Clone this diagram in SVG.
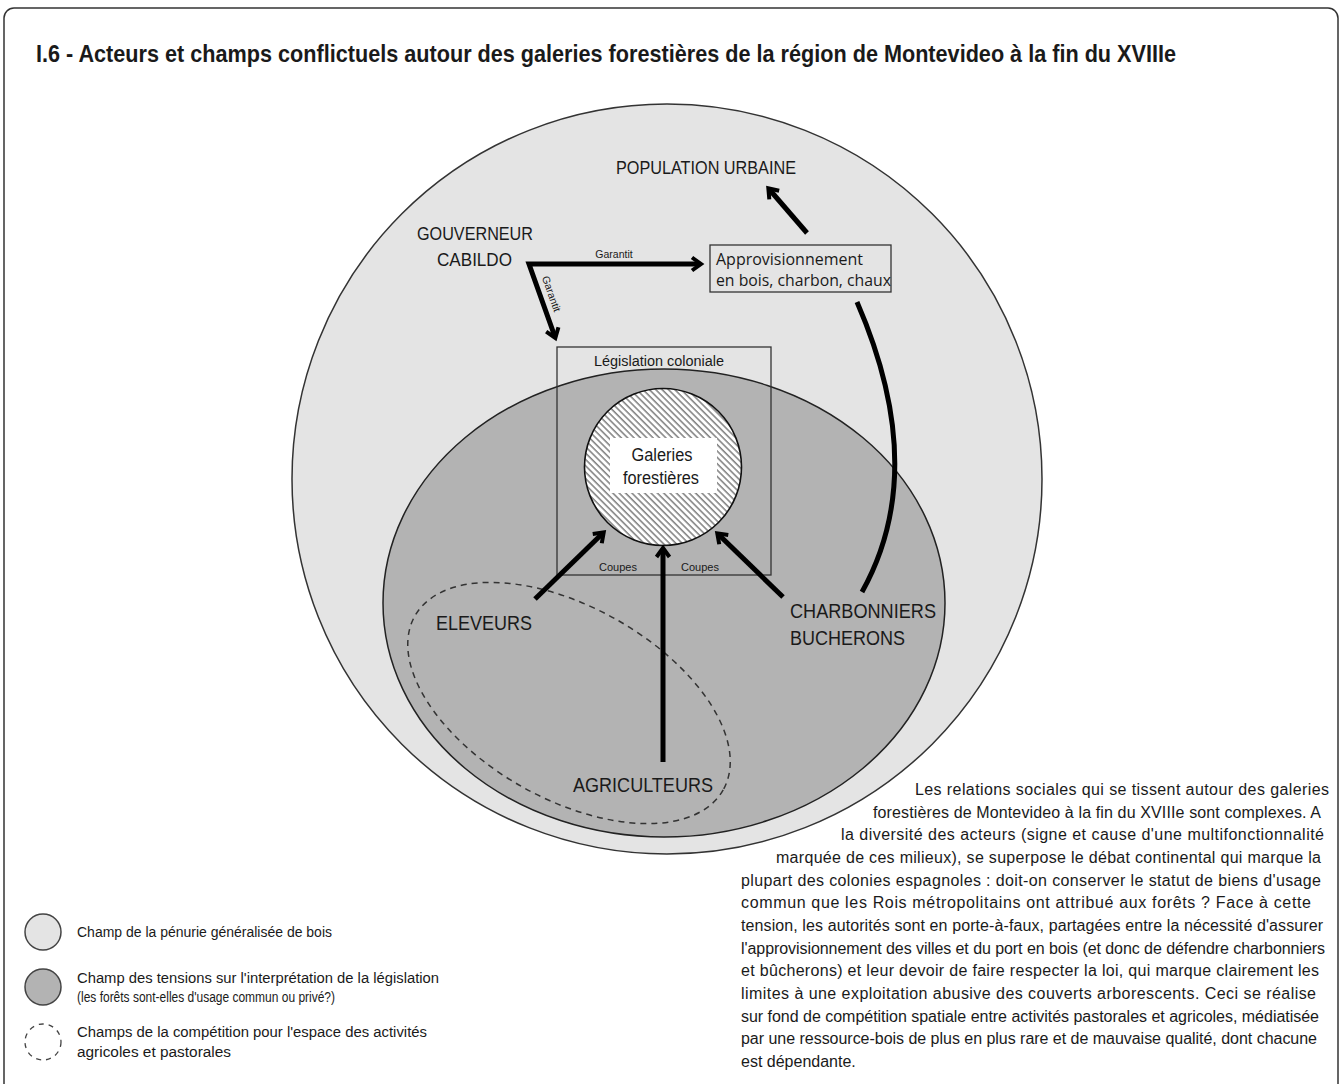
<svg xmlns="http://www.w3.org/2000/svg" width="1342" height="1084" viewBox="0 0 1342 1084">
<style>
.t{font-family:"Liberation Sans",Arial,sans-serif;fill:#1a1a1a}
.os{font-family:"Open Sans","Noto Sans",sans-serif;fill:#1a1a1a}
.lbl{font-size:20.5px}
.sm{font-size:10.5px}
.para{font-size:16px}
.leg{font-size:15.5px}
.arrow{fill:none;stroke:#000;stroke-width:5;marker-end:url(#chev)}
</style>
<defs>
<marker id="chev" markerUnits="userSpaceOnUse" viewBox="0 0 16 16" markerWidth="16" markerHeight="16" refX="11" refY="8" orient="auto-start-reverse" overflow="visible">
<path d="M3,1.5 L12,8 L3,14.5" fill="none" stroke="#000" stroke-width="4"/>
</marker>
<pattern id="hatch" patternUnits="userSpaceOnUse" width="4.5" height="4.5" patternTransform="rotate(45)">
<rect width="4.5" height="4.5" fill="#fff"/>
<line x1="0" y1="0.8" x2="4.5" y2="0.8" stroke="#6a6a6a" stroke-width="1.3"/>
</pattern>
</defs>
<rect x="4" y="8" width="1334" height="1100" rx="10" fill="#fff" stroke="#333" stroke-width="1.5"/>
<text id="title" class="t" x="36" y="62" font-size="24" font-weight="bold" textLength="1140" lengthAdjust="spacingAndGlyphs">I.6 - Acteurs et champs conflictuels autour des galeries forestières de la région de Montevideo à la fin du XVIIIe</text>

<g id="champ-penurie"><circle cx="667" cy="479" r="375" fill="#e4e4e4" stroke="#333" stroke-width="1.5"/></g>
<g id="champ-tensions"><ellipse cx="664" cy="603" rx="281" ry="234" fill="#b3b3b3" stroke="#222" stroke-width="1.5"/></g>
<g id="champ-competition"><ellipse cx="569" cy="703" rx="177" ry="96" transform="rotate(29.4 569 703)" fill="none" stroke="#333" stroke-width="1.5" stroke-dasharray="6 5"/></g>

<g id="legislation">
<rect x="557" y="347" width="214" height="228" fill="none" stroke="#333" stroke-width="1.3"/>
<text class="t" x="659" y="366" font-size="15.5" text-anchor="middle" textLength="130" lengthAdjust="spacingAndGlyphs">Législation coloniale</text>
</g>
<g id="galeries">
<circle cx="663" cy="467" r="78.5" fill="url(#hatch)" stroke="#111" stroke-width="1.6"/>
<rect x="610" y="438" width="107" height="55" fill="#fff"/>
<text class="t" x="662" y="461" font-size="17.5" text-anchor="middle" textLength="61" lengthAdjust="spacingAndGlyphs">Galeries</text>
<text class="t" x="661" y="484" font-size="17.5" text-anchor="middle" textLength="76" lengthAdjust="spacingAndGlyphs">forestières</text>
</g>
<g id="approvisionnement">
<rect x="710" y="245" width="181" height="47" fill="none" stroke="#333" stroke-width="1.3"/>
<text class="os" x="716" y="265" font-size="16" textLength="147" lengthAdjust="spacingAndGlyphs">Approvisionnement</text>
<text class="os" x="716" y="286" font-size="16" textLength="175" lengthAdjust="spacingAndGlyphs">en bois, charbon, chaux</text>
</g>
<g id="population"><text class="t" x="616" y="174" font-size="18.5" textLength="180" lengthAdjust="spacingAndGlyphs">POPULATION URBAINE</text></g>
<g id="gouverneur">
<text class="t" x="417" y="240" font-size="17.5" textLength="116" lengthAdjust="spacingAndGlyphs">GOUVERNEUR</text>
<text class="t" x="437" y="266" font-size="17.5" textLength="75" lengthAdjust="spacingAndGlyphs">CABILDO</text>
</g>
<g id="eleveurs"><text class="t lbl" x="436" y="630" textLength="96" lengthAdjust="spacingAndGlyphs">ELEVEURS</text></g>
<g id="agriculteurs"><text class="t lbl" x="573" y="792" textLength="140" lengthAdjust="spacingAndGlyphs">AGRICULTEURS</text></g>
<g id="charbonniers">
<text class="t lbl" x="790" y="618" textLength="146" lengthAdjust="spacingAndGlyphs">CHARBONNIERS</text>
<text class="t lbl" x="790" y="645" textLength="115" lengthAdjust="spacingAndGlyphs">BUCHERONS</text>
</g>

<g id="connectors">
<path class="arrow" d="M700,264 L529,264 L555,337" marker-start="url(#chev)" stroke-linejoin="miter"/>
<text class="t sm" x="614" y="258" text-anchor="middle">Garantit</text>
<text class="t sm" x="548" y="295" text-anchor="middle" transform="rotate(70.4 548 295)">Garantit</text>
<path class="arrow" d="M807,233 L769,189"/>
<path d="M857,302 Q930,470 862,592" fill="none" stroke="#000" stroke-width="5"/>
<path class="arrow" d="M535,599 L603,533"/>
<path class="arrow" d="M663,762 L663,549"/>
<path class="arrow" d="M783,597 L718,534"/>
<text class="t sm" x="618" y="571" font-size="11.5" text-anchor="middle" textLength="38" lengthAdjust="spacingAndGlyphs">Coupes</text>
<text class="t sm" x="700" y="571" font-size="11.5" text-anchor="middle" textLength="38" lengthAdjust="spacingAndGlyphs">Coupes</text>
</g>

<g id="legend">
<circle cx="43" cy="932" r="18" fill="#e4e4e4" stroke="#444" stroke-width="1.5"/>
<text class="t leg" x="77" y="937" textLength="255" lengthAdjust="spacingAndGlyphs">Champ de la pénurie généralisée de bois</text>
<circle cx="43" cy="987" r="18" fill="#b3b3b3" stroke="#444" stroke-width="1.5"/>
<text class="t leg" x="77" y="983" textLength="362" lengthAdjust="spacingAndGlyphs">Champ des tensions sur l'interprétation de la législation</text>
<text class="t leg" x="77" y="1002" textLength="258" lengthAdjust="spacingAndGlyphs">(les forêts sont-elles d'usage commun ou privé?)</text>
<circle cx="43" cy="1042" r="18" fill="none" stroke="#444" stroke-width="1.3" stroke-dasharray="5 5"/>
<text class="t leg" x="77" y="1037" textLength="350" lengthAdjust="spacingAndGlyphs">Champs de la compétition pour l'espace des activités</text>
<text class="t leg" x="77" y="1057" textLength="154" lengthAdjust="spacingAndGlyphs">agricoles et pastorales</text>
</g>

<g id="paragraph" class="t para">
<text x="915" y="795" textLength="414" lengthAdjust="spacing">Les relations sociales qui se tissent autour des galeries</text>
<text x="873" y="817.7" textLength="448" lengthAdjust="spacing">forestières de Montevideo à la fin du XVIIIe sont complexes. A</text>
<text x="841" y="840.3" textLength="483" lengthAdjust="spacing">la diversité des acteurs (signe et cause d'une multifonctionnalité</text>
<text x="776" y="863" textLength="545" lengthAdjust="spacing">marquée de ces milieux), se superpose le débat continental qui marque la</text>
<text x="741" y="885.7" textLength="580" lengthAdjust="spacing">plupart des colonies espagnoles : doit-on conserver le statut de biens d'usage</text>
<text x="741" y="908.3" textLength="570" lengthAdjust="spacing">commun que les Rois métropolitains ont attribué aux forêts ? Face à cette</text>
<text x="741" y="931" textLength="582" lengthAdjust="spacing">tension, les autorités sont en porte-à-faux, partagées entre la nécessité d'assurer</text>
<text x="741" y="953.7" textLength="584" lengthAdjust="spacing">l'approvisionnement des villes et du port en bois (et donc de défendre charbonniers</text>
<text x="741" y="976.3" textLength="578" lengthAdjust="spacing">et bûcherons) et leur devoir de faire respecter la loi, qui marque clairement les</text>
<text x="741" y="999" textLength="575" lengthAdjust="spacing">limites à une exploitation abusive des couverts arborescents. Ceci se réalise</text>
<text x="741" y="1021.7" textLength="578" lengthAdjust="spacing">sur fond de compétition spatiale entre activités pastorales et agricoles, médiatisée</text>
<text x="741" y="1044.3" textLength="576" lengthAdjust="spacing">par une ressource-bois de plus en plus rare et de mauvaise qualité, dont chacune</text>
<text x="741" y="1067">est dépendante.</text>
</g>
</svg>
